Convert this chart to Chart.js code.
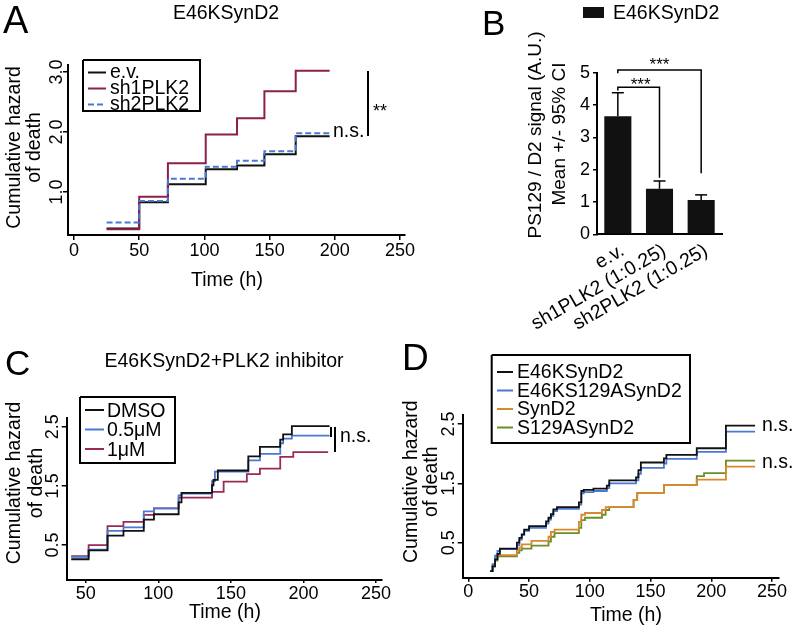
<!DOCTYPE html>
<html>
<head>
<meta charset="utf-8">
<script src="https://cdn.jsdelivr.net/npm/chart.js@4"></script>
<style>
  html, body { margin: 0; padding: 0; background: #fff; }
  #wrap { position: relative; width: 796px; height: 630px; overflow: hidden; }
  #wrap canvas { position: absolute; left: 0; top: 0; }
</style>
</head>
<body>
<div id="wrap">
  <canvas id="panel-a" width="796" height="630"></canvas>
  <canvas id="panel-b" width="796" height="630"></canvas>
  <canvas id="panel-c" width="796" height="630"></canvas>
  <canvas id="panel-d" width="796" height="630"></canvas>
</div>
<script>
// ---- panel A: E46KSynD2, shRNA knock-down ----
const aTimes = [25, 50, 72, 101, 125, 146, 170, 196];
const aEv  = [0.39, 0.83, 1.13, 1.38, 1.44, 1.63, 1.93, 1.93];
const aSh1 = [0.38, 0.92, 1.48, 1.96, 2.23, 2.68, 3.02, 3.02];
const aSh2 = [0.49, 0.85, 1.22, 1.42, 1.52, 1.68, 1.98, 1.98];
const aXTicks = [0, 50, 100, 150, 200, 250];
const aYTicks = [1, 2, 3];

// ---- panel B: PS129 / D2 signal ----
const bCategories = ['e.v.', 'sh1PLK2 (1:0.25)', 'sh2PLK2 (1:0.25)'];
const bMeans = [3.65, 1.41, 1.06];
const bUpperCI = [4.38, 1.65, 1.22];
const bYTicks = [0, 1, 2, 3, 4, 5];

// ---- panel C: PLK2 inhibitor ----
const cDmsoTimes = [40, 52, 65, 76, 90, 97, 114, 116, 137, 138, 141, 162, 170, 184, 186, 192, 218];
const cDmsoVals  = [0.26, 0.41, 0.66, 0.74, 0.93, 1.02, 1.22, 1.38, 1.51, 1.60, 1.76, 2.00, 2.16, 2.28, 2.37, 2.51, 2.51];
const cHalfTimes = [40, 52, 65, 76, 90, 97, 114, 116, 137, 139, 162, 170, 184, 186, 192, 218];
const cHalfVals  = [0.30, 0.42, 0.74, 0.80, 1.07, 1.12, 1.34, 1.37, 1.58, 1.74, 1.93, 2.04, 2.22, 2.30, 2.35, 2.35];
const cOneTimes  = [40, 52, 65, 76, 90, 97, 114, 137, 145, 161, 170, 184, 193, 217];
const cOneVals   = [0.31, 0.50, 0.82, 0.89, 1.01, 1.12, 1.30, 1.40, 1.57, 1.70, 1.79, 1.99, 2.07, 2.07];
const cXTicks = [50, 100, 150, 200, 250];

// ---- panel D: S129A mutants ----
const dE46Times = [18, 20, 22, 24, 26, 40, 42, 44, 46, 50, 64, 66, 68, 70, 73, 91, 93, 95, 103, 114, 116, 138, 140, 142, 161, 163, 188, 212, 236];
const dE46Vals  = [0.02, 0.10, 0.22, 0.31, 0.40, 0.50, 0.58, 0.64, 0.72, 0.78, 0.86, 0.92, 0.98, 1.06, 1.10, 1.18, 1.37, 1.39, 1.41, 1.46, 1.55, 1.60, 1.72, 1.85, 1.92, 1.98, 2.09, 2.47, 2.47];
const dE46AVals = [0.02, 0.14, 0.28, 0.36, 0.39, 0.46, 0.55, 0.63, 0.70, 0.75, 0.82, 0.89, 0.95, 1.03, 1.07, 1.14, 1.33, 1.35, 1.37, 1.42, 1.50, 1.55, 1.66, 1.76, 1.83, 1.91, 2.03, 2.37, 2.37];
const dSynTimes = [18, 20, 22, 24, 40, 42, 44, 52, 66, 68, 71, 91, 93, 96, 110, 113, 136, 139, 161, 188, 212, 236];
const dSynVals  = [0.02, 0.12, 0.22, 0.29, 0.38, 0.42, 0.47, 0.53, 0.60, 0.68, 0.72, 0.85, 0.97, 1.00, 1.05, 1.10, 1.22, 1.34, 1.47, 1.56, 1.78, 1.78];
const dSynATimes = [18, 20, 22, 24, 40, 42, 44, 52, 66, 68, 71, 91, 93, 96, 110, 113, 116, 136, 139, 161, 188, 194, 212, 236];
const dSynAVals  = [0.02, 0.10, 0.20, 0.27, 0.33, 0.37, 0.40, 0.45, 0.52, 0.60, 0.66, 0.75, 0.88, 0.92, 0.97, 1.05, 1.10, 1.22, 1.34, 1.47, 1.62, 1.67, 1.88, 1.88];
const dXTicks = [0, 50, 100, 150, 200, 250];

const hazardYTicks = [0.5, 1.5, 2.5];

const FONT = '"Liberation Sans", Arial, Helvetica, sans-serif';
const BLACK = '#111111';
const MAROON = '#8c1f4c';
const BLUE = '#4a79d4';
const ORANGE = '#d8892e';
const GREEN = '#6b8d2a';

Chart.defaults.font.family = FONT;
Chart.defaults.color = '#000';

// page coordinates of the plot box -> layout padding of a full-page canvas,
// leaving yW px for the y scale and xH px for the x scale (their labels are clipped to that box)
function pad(area, yW, xH) {
    return { left: area[0] - yW, top: area[1], right: 796 - area[2], bottom: 630 - area[3] - xH };
}

function drawText(ctx, str, x, y, size, align, rotate) {
    ctx.save();
    ctx.font = size + 'px ' + FONT;
    ctx.fillStyle = '#000';
    ctx.textAlign = align || 'left';
    ctx.textBaseline = 'alphabetic';
    ctx.translate(x, y);
    if (rotate) ctx.rotate(-Math.PI / 2);
    ctx.fillText(str, 0, 0);
    ctx.restore();
}

function drawPath(ctx, pts, color, width, dash) {
    ctx.save();
    ctx.strokeStyle = color;
    ctx.lineWidth = width;
    ctx.setLineDash(dash || []);
    ctx.beginPath();
    pts.forEach(([x, y], i) => i ? ctx.lineTo(x, y) : ctx.moveTo(x, y));
    ctx.stroke();
    ctx.restore();
}

// legend drawn from the chart's own datasets, in data order
function drawLegend(chart, frame, rows) {
    const ctx = chart.ctx;
    const [x0, y0, x1, y1] = frame;
    drawPath(ctx, [[x0, y0], [x1, y0], [x1, y1], [x0, y1], [x0, y0]], '#000', 2);
    chart.data.datasets.forEach((ds, i) => {
        const y = rows.y0 + i * rows.step;
        drawPath(ctx, [[rows.x0, y], [rows.x1, y]], ds.borderColor, 2, ds.borderDash);
        drawText(ctx, ds.label, rows.tx, y + rows.dy, 19.5);
    });
}

function drawHazardAxisText(chart, tickBase, titleBase1, titleBase2, titleMid, xMid, xBase) {
    const ctx = chart.ctx;
    const ys = chart.scales.y;
    ys.ticks.forEach(t => {
        drawText(ctx, t.value.toFixed(1), tickBase, ys.getPixelForValue(t.value), 18, 'center', true);
    });
    drawText(ctx, 'Cumulative hazard', titleBase1, titleMid, 19.5, 'center', true);
    drawText(ctx, 'of death', titleBase2, titleMid, 19.5, 'center', true);
    drawText(ctx, 'Time (h)', xMid, xBase, 19.5, 'center');
}

function series(label, times, values, color, order, extra) {
    return Object.assign({
        label: label,
        data: times.map((t, i) => ({ x: t, y: values[i] })),
        borderColor: color,
        backgroundColor: color,
        borderWidth: 2,
        stepped: true,
        pointRadius: 0,
        fill: false,
        order: order
    }, extra || {});
}

function hazardChart(id, datasets, area, xRange, yRange, xTicks, yTicks, xTickLen, decor) {
    return new Chart(document.getElementById(id), {
        type: 'line',
        data: { datasets: datasets },
        options: {
            responsive: false,
            animation: false,
            devicePixelRatio: 1,
            layout: { padding: pad(area, 0, 40) },
            plugins: { legend: { display: false }, tooltip: { enabled: false } },
            scales: {
                x: {
                    type: 'linear',
                    min: xRange[0],
                    max: xRange[1],
                    afterFit: s => { s.height = 40; },
                    afterBuildTicks: s => { s.ticks = xTicks.map(v => ({ value: v })); },
                    grid: { drawOnChartArea: false, tickLength: xTickLen, color: '#000', lineWidth: 1.5 },
                    border: { color: '#000', width: 2 },
                    ticks: { font: { size: 18 }, color: '#000', padding: 0, maxRotation: 0, autoSkip: false }
                },
                y: {
                    type: 'linear',
                    min: yRange[0],
                    max: yRange[1],
                    afterFit: s => { s.width = 0; },
                    afterBuildTicks: s => { s.ticks = yTicks.map(v => ({ value: v })); },
                    grid: { drawOnChartArea: false, tickLength: 5, color: '#000', lineWidth: 1.5 },
                    border: { color: '#000', width: 2 },
                    ticks: { display: false }
                }
            }
        },
        plugins: [{ id: 'decor', afterDraw: decor }]
    });
}

// ---- A ----
hazardChart('panel-a', [
    series('e.v.', aTimes, aEv, BLACK, 3),
    series('sh1PLK2', aTimes, aSh1, MAROON, 2),
    series('sh2PLK2', aTimes, aSh2, BLUE, 1, { borderDash: [6, 3] })
], [68, 65, 405, 235], [-4.6, 253.8], [0.283, 3.117], aXTicks, aYTicks, 5, chart => {
    const ctx = chart.ctx;
    drawText(ctx, 'A', 3, 33, 38);
    drawText(ctx, 'E46KSynD2', 226, 19, 19.5, 'center');
    drawHazardAxisText(chart, 61.5, 20, 40, 147.5, 227, 286);
    drawLegend(chart, [83, 60, 200, 111], { y0: 72.5, step: 16, x0: 88, x1: 106, tx: 110, dy: 5.5 });
    drawPath(ctx, [[368, 71], [368, 136]], '#000', 2);
    drawText(ctx, '**', 373, 117, 18);
    drawText(ctx, 'n.s.', 333, 137, 19.5);
});

// ---- B ----
new Chart(document.getElementById('panel-b'), {
    type: 'bar',
    data: {
        labels: bCategories,
        datasets: [{
            label: 'E46KSynD2',
            data: bMeans,
            backgroundColor: BLACK,
            borderWidth: 0,
            barPercentage: 0.65,
            categoryPercentage: 1
        }]
    },
    options: {
        responsive: false,
        animation: false,
        devicePixelRatio: 1,
        layout: { padding: pad([597, 72.7, 722, 234.3], 25, 120) },
        plugins: { legend: { display: false }, tooltip: { enabled: false } },
        scales: {
            x: {
                afterFit: s => { s.height = 120; },
                grid: { display: false, drawTicks: false },
                border: { color: '#000', width: 2 },
                ticks: { font: { size: 19.5 }, color: '#000', minRotation: 30, maxRotation: 30, padding: 5, labelOffset: 5, autoSkip: false }
            },
            y: {
                min: 0,
                max: 5,
                afterFit: s => { s.width = 25; },
                afterBuildTicks: s => { s.ticks = bYTicks.map(v => ({ value: v })); },
                grid: { drawOnChartArea: false, tickLength: 4, color: '#000', lineWidth: 1.5 },
                border: { color: '#000', width: 2 },
                ticks: { font: { size: 18 }, color: '#000', padding: 3 }
            }
        }
    },
    plugins: [{
        id: 'decorB',
        afterDatasetsDraw(chart) {
            const { ctx, scales: { x, y } } = chart;
            // upper half of the 95% CI
            bUpperCI.forEach((hi, i) => {
                const cx = x.getPixelForValue(i);
                const top = y.getPixelForValue(hi);
                drawPath(ctx, [[cx, y.getPixelForValue(bMeans[i])], [cx, top]], '#000', 1.5);
                drawPath(ctx, [[cx - 6, top], [cx + 6, top]], '#000', 1.5);
            });
        },
        afterDraw(chart) {
            const { ctx, scales: { x, y } } = chart;
            drawText(ctx, 'B', 482, 35, 35);
            ctx.fillStyle = BLACK;
            ctx.fillRect(583, 7, 21, 11);
            drawText(ctx, chart.data.datasets[0].label, 613, 18.5, 19.5);
            drawText(ctx, 'PS129 / D2 signal (A.U.)', 541, 135, 19, 'center', true);
            drawText(ctx, 'Mean +/- 95% CI', 565, 134, 19, 'center', true);
            // significance brackets
            const x0 = x.getPixelForValue(0), x1 = x.getPixelForValue(1), x2 = x.getPixelForValue(2);
            drawPath(ctx, [[x0, y.getPixelForValue(4.45)], [x0, y.getPixelForValue(4.55)],
                [x1, y.getPixelForValue(4.55)], [x1, y.getPixelForValue(1.75)]], '#000', 1.5);
            drawPath(ctx, [[x0, y.getPixelForValue(4.98)], [x0, y.getPixelForValue(5.08)],
                [x2, y.getPixelForValue(5.08)], [x2, y.getPixelForValue(1.89)]], '#000', 1.5);
            drawText(ctx, '***', (x0 + x1) / 2 + 2, 90, 17, 'center');
            drawText(ctx, '***', (x0 + x2) / 2, 70, 17, 'center');
        }
    }]
});

// ---- C ----
hazardChart('panel-c', [
    series('DMSO', cDmsoTimes, cDmsoVals, BLACK, 1, { borderWidth: 1.8 }),
    series('0.5\u03bcM', cHalfTimes, cHalfVals, BLUE, 2, { borderWidth: 1.8 }),
    series('1\u03bcM', cOneTimes, cOneVals, '#9a2a58', 3, { borderWidth: 1.8 })
], [66.7, 418, 382, 580], [36.9, 254.1], [-0.091, 2.647], cXTicks, hazardYTicks, 3, chart => {
    const ctx = chart.ctx;
    drawText(ctx, 'C', 5, 375, 35);
    drawText(ctx, 'E46KSynD2+PLK2 inhibitor', 224, 367, 19.5, 'center');
    drawHazardAxisText(chart, 58.3, 20, 41.5, 483, 225, 618);
    drawLegend(chart, [80, 397, 175, 463], { y0: 410, step: 19.5, x0: 85, x1: 104, tx: 107, dy: 6.5 });
    drawPath(ctx, [[331, 427], [331, 437]], '#000', 2);
    drawPath(ctx, [[335, 427], [335, 452]], '#000', 2);
    drawText(ctx, 'n.s.', 340, 442, 19.5);
});

// ---- D ----
hazardChart('panel-d', [
    series('E46KSynD2', dE46Times, dE46Vals, BLACK, 1, { borderWidth: 1.8 }),
    series('E46KS129ASynD2', dE46Times, dE46AVals, BLUE, 2, { borderWidth: 1.8 }),
    series('SynD2', dSynTimes, dSynVals, ORANGE, 3, { borderWidth: 1.8 }),
    series('S129ASynD2', dSynATimes, dSynAVals, GREEN, 4, { borderWidth: 1.8 })
], [462.7, 415, 778.3, 577.7], [-4.6, 255.1], [-0.09, 2.65], dXTicks, hazardYTicks, 4, chart => {
    const ctx = chart.ctx;
    drawText(ctx, 'D', 402, 370, 37);
    drawHazardAxisText(chart, 454, 416.5, 436.5, 481.7, 626, 621);
    drawLegend(chart, [491.7, 355, 690, 443], { y0: 372, step: 18.5, x0: 497, x1: 513, tx: 517, dy: 6.3 });
    drawText(ctx, 'n.s.', 762, 431, 19.5);
    drawText(ctx, 'n.s.', 762, 468, 19.5);
});
</script>
</body>
</html>
